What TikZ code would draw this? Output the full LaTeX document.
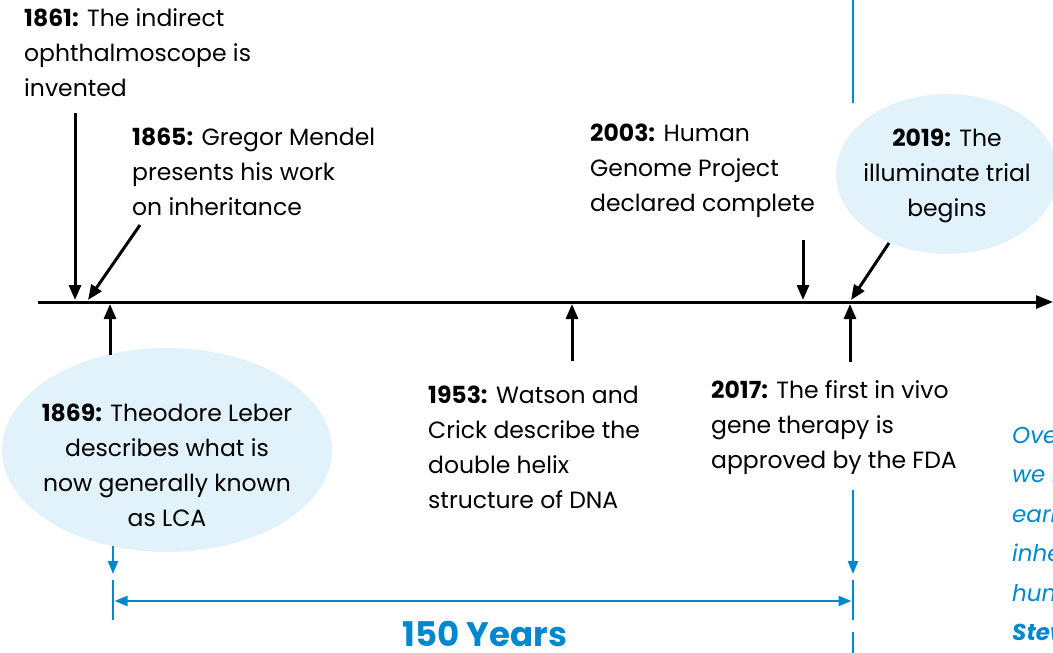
\documentclass[tikz,border=0pt]{standalone}
\usepackage{fontspec}
\setmainfont{Poppins}
\usetikzlibrary{arrows.meta,shapes.geometric}
\definecolor{tblue}{RGB}{0,136,206}
\definecolor{lblue}{RGB}{225,242,251}
\begin{document}
\begin{tikzpicture}[x=1pt,y=-1pt,
  txt/.style={font=\fontsize{23.5}{35}\selectfont, align=left, inner sep=0pt, anchor=north west, text=black},
  ctxt/.style={font=\fontsize{23.5}{35}\selectfont, align=center, inner sep=0pt, text=black},
  bubble/.style={ellipse, fill=lblue, draw=none, inner sep=0pt},
  blk/.style={line width=3pt, -{Triangle[length=15pt,width=12pt]}},
  axis/.style={line width=3pt, -{Triangle[length=17pt,width=13pt]}},
  blu/.style={draw=tblue, line width=2.2pt},
  bluarr/.style={blu, -{Triangle[length=13pt,width=10pt]}},
  quote/.style={font=\fontsize{23}{39.5}\selectfont\itshape, align=left, inner sep=0pt, anchor=north west, text=tblue}]
\useasboundingbox (0,0) rectangle (1053,653);
\begin{scope}
\clip (0,0) rectangle (1053,653);
% bubbles
\node[bubble, minimum width=222pt, minimum height=160pt] (e2019) at (947,174) {};
\node[bubble, minimum width=330pt, minimum height=204pt] (e1869) at (167,450) {};
% texts
\node[txt] (t1861) at (24,8) {\textbf{1861:} The indirect\\ophthalmoscope is\\invented};
\node[txt] (t1865) at (132,128) {\textbf{1865:} Gregor Mendel\\presents his work\\on inheritance};
\node[txt] (t2003) at (590,124) {\textbf{2003:} Human\\Genome Project\\declared complete};
\node[ctxt] (t2019) at (947,176) {\textbf{2019:} The\\illuminate trial\\begins};
\node[ctxt] (t1869) at (167,465) {\textbf{1869:} Theodore Leber\\describes what is\\now generally known\\as LCA};
\node[txt] (t1953) at (428,386) {\textbf{1953:} Watson and\\Crick describe the\\double helix\\structure of DNA};
\node[txt] (t2017) at (711,380) {\textbf{2017:} The first in vivo\\gene therapy is\\approved by the FDA};
\node[quote] (q) at (1012,426) {Over the past\\we have seen\\early\\inherited\\human\\\textbf{Stewart}};
\node[font=\fontsize{34}{38}\selectfont\bfseries, text=tblue, inner sep=0pt] (yrs) at (485,634) {150 Years};
% timeline
\coordinate (tl0) at (38,302);
\coordinate (tl1) at (1053,302);
\draw[axis] (tl0) -- (tl1);
% black arrows
\coordinate (a1861s) at (75,113);   \coordinate (a1861e) at (75,300);
\coordinate (a1865s) at (140,225);  \coordinate (a1865e) at (88,300);
\coordinate (a1869s) at (110,355);  \coordinate (a1869e) at (110,304);
\coordinate (a1953s) at (572,361);  \coordinate (a1953e) at (572,304);
\coordinate (a2003s) at (803,240);  \coordinate (a2003e) at (803,300);
\coordinate (a2019s) at (889,243);  \coordinate (a2019e) at (851,300);
\coordinate (a2017s) at (850,362);  \coordinate (a2017e) at (850,304);
\draw[blk] (a1861s) -- (a1861e);
\draw[blk] (a1865s) -- (a1865e);
\draw[blk] (a1869s) -- (a1869e);
\draw[blk] (a1953s) -- (a1953e);
\draw[blk] (a2003s) -- (a2003e);
\draw[blk] (a2019s) -- (a2019e);
\draw[blk] (a2017s) -- (a2017e);
% blue marks
\coordinate (bt0) at (853,0);    \coordinate (bt1) at (853,103);
\draw[draw=tblue, line width=1.4pt] (bt0) -- (bt1);
\coordinate (b1869s) at (113,546); \coordinate (b1869e) at (113,574);
\draw[bluarr] (b1869s) -- (b1869e);
\coordinate (b2017s) at (853,490); \coordinate (b2017e) at (853,574);
\draw[bluarr] (b2017s) -- (b2017e);
\coordinate (lt0) at (113,580); \coordinate (lt1) at (113,620);
\coordinate (rt0) at (853,580); \coordinate (rt1) at (853,620);
\draw[blu] (lt0) -- (lt1);
\draw[blu] (rt0) -- (rt1);
\coordinate (sp0) at (114.5,601); \coordinate (sp1) at (851.5,601);
\draw[blu, {Triangle[length=13pt,width=10pt]}-{Triangle[length=13pt,width=10pt]}] (sp0) -- (sp1);
\coordinate (rb0) at (853,632); \coordinate (rb1) at (853,653);
\draw[draw=tblue, line width=1.4pt] (rb0) -- (rb1);
\end{scope}
\end{tikzpicture}
\end{document}
